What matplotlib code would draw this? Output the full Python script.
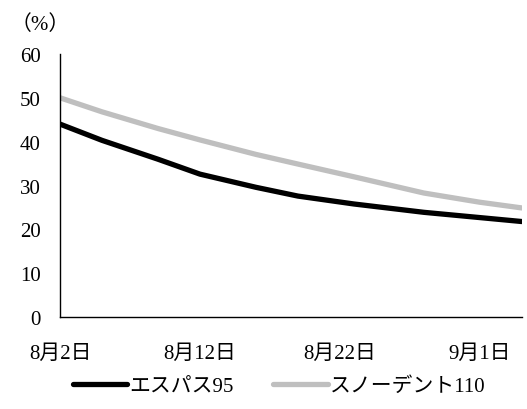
import datetime as dt

import matplotlib as mpl
mpl.use('Agg')
from matplotlib import pyplot as plt

plt.rcParams['font.family'] = ['Liberation Serif', 'Noto Sans CJK JP']

# Values (days after Aug 2)
day_offsets = [0, 3, 7, 10, 14, 17, 21, 26, 30, 33]
espas95 = [44.0, 40.3, 36.0, 32.6, 29.6, 27.6, 25.8, 23.9, 22.7, 21.8]
snowdent110 = [50.0, 46.8, 43.0, 40.4, 37.1, 34.9, 32.0, 28.3, 26.2, 24.9]

start = dt.date(2020, 8, 2)
dates = [start + dt.timedelta(days=d) for d in day_offsets]

tick_dates = [dt.date(2020, 8, 2), dt.date(2020, 8, 12), dt.date(2020, 8, 22), dt.date(2020, 9, 1)]
tick_labels = ['8月2日', '8月12日', '8月22日', '9月1日']
y_ticks = [0, 10, 20, 30, 40, 50, 60]

fig = plt.figure(figsize=(5.27, 4.10), dpi=100)
ax = fig.add_axes([0.114, 0.224, 0.876, 0.642])

ax.plot(dates, espas95, color='black', lw=3.8, solid_capstyle='round', label='エスパス95')
ax.plot(dates, snowdent110, color='#bfbfbf', lw=3.8, solid_capstyle='round', label='スノーデント110')

ax.set_xlim(dates[0], dates[-1])
ax.set_ylim(0, 60)
ax.set_yticks(y_ticks)
ax.set_xticks(tick_dates)
ax.set_xticklabels(tick_labels)
ax.tick_params(length=0, labelsize=15)
ax.tick_params(axis='x', pad=19)
ax.tick_params(axis='y', pad=14)

for side in ['top', 'right']:
    ax.spines[side].set_visible(False)
for side in ['left', 'bottom']:
    ax.spines[side].set_linewidth(1.0)

fig.text(0.02, 0.94, '（%）', fontsize=15, ha='left', va='center')

fig.legend(loc='center', bbox_to_anchor=(0.53, 0.055), ncol=2, frameon=False,
           fontsize=15, handlelength=2.6, handletextpad=0.1, columnspacing=1.9)

fig.savefig('out.png', dpi=100)
